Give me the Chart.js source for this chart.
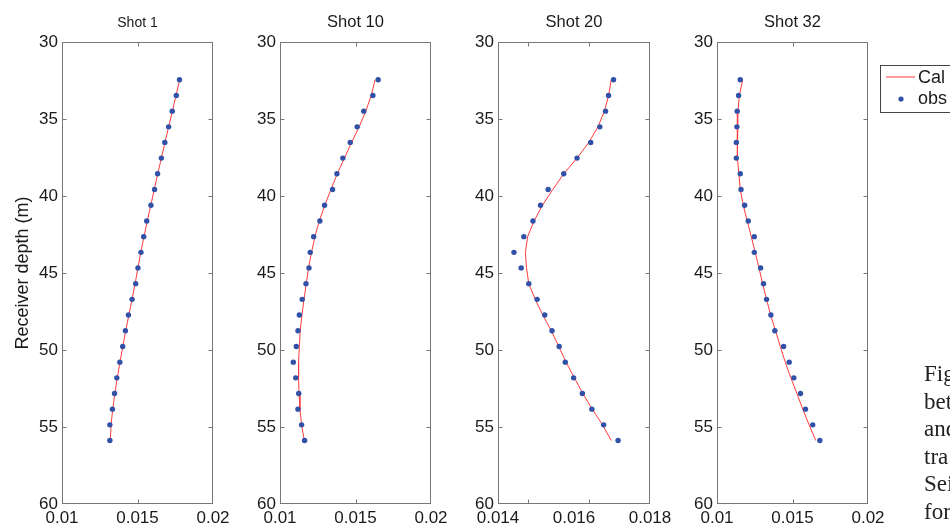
<!DOCTYPE html>
<html><head><meta charset="utf-8">
<script src="https://cdn.jsdelivr.net/npm/chart.js@4.4.1/dist/chart.umd.min.js"></script>
<style>
html,body{margin:0;padding:0;background:#fff;width:950px;height:525px;overflow:hidden;position:relative;}
canvas{position:absolute;top:0;}
#caption{position:absolute;left:924px;top:360px;font-family:"Liberation Serif","Times New Roman",serif;font-size:23px;line-height:27.5px;color:#222;white-space:nowrap;}
</style></head><body>
<canvas id="c1" width="240" height="525" style="left:0px"></canvas>
<canvas id="c2" width="240" height="525" style="left:218px"></canvas>
<canvas id="c3" width="240" height="525" style="left:436px"></canvas>
<canvas id="c4" width="295" height="525" style="left:655px"></canvas>
<div id="caption">Fig<br>bet<br>and<br>tra<br>Sei<br>for</div>
<script>
// ---- data ----
const depths = [32.45, 33.47, 34.49, 35.51, 36.52, 37.54, 38.56, 39.58, 40.60, 41.62, 42.64, 43.66,
                44.67, 45.69, 46.71, 47.73, 48.75, 49.77, 50.79, 51.81, 52.82, 53.84, 54.86, 55.88];

const shotTitles = ["Shot 1", "Shot 10", "Shot 20", "Shot 32"];
const seriesLabels = ["Cal", "obs"];
const yAxisTitle = "Receiver depth (m)";

const shot1Obs = [0.01778, 0.01757, 0.01730, 0.01706, 0.01681, 0.01658, 0.01633, 0.01613, 0.01589, 0.01561, 0.01541, 0.01523,
                  0.01503, 0.01488, 0.01464, 0.01440, 0.01420, 0.01402, 0.01383, 0.01363, 0.01348, 0.01334, 0.01317, 0.01317];
const shot1Cal = [0.01780, 0.01755, 0.01731, 0.01706, 0.01682, 0.01658, 0.01634, 0.01611, 0.01588, 0.01565, 0.01543, 0.01522,
                  0.01503, 0.01484, 0.01464, 0.01443, 0.01422, 0.01403, 0.01384, 0.01366, 0.01350, 0.01336, 0.01325, 0.01320];

const shot10Obs = [0.01650, 0.01615, 0.01555, 0.01511, 0.01465, 0.01416, 0.01377, 0.01348, 0.01295, 0.01264, 0.01223, 0.01200,
                   0.01192, 0.01172, 0.01147, 0.01128, 0.01119, 0.01108, 0.01088, 0.01104, 0.01124, 0.01119, 0.01143, 0.01163];
const shot10Cal = [0.01630, 0.01604, 0.01568, 0.01524, 0.01474, 0.01427, 0.01379, 0.01337, 0.01297, 0.01260, 0.01231, 0.01209,
                   0.01189, 0.01174, 0.01159, 0.01145, 0.01134, 0.01128, 0.01123, 0.01123, 0.01126, 0.01132, 0.01143, 0.01161];

const shot20Obs = [0.01704, 0.01691, 0.01683, 0.01668, 0.01644, 0.01608, 0.01573, 0.01532, 0.01512, 0.01492, 0.01468, 0.01442,
                   0.01461, 0.01481, 0.01503, 0.01523, 0.01542, 0.01561, 0.01577, 0.01599, 0.01622, 0.01647, 0.01678, 0.01716];
const shot20Cal = [0.01698, 0.01691, 0.01680, 0.01663, 0.01639, 0.01608, 0.01573, 0.01544, 0.01517, 0.01495, 0.01478, 0.01472,
                   0.01475, 0.01481, 0.01498, 0.01518, 0.01540, 0.01560, 0.01579, 0.01601, 0.01623, 0.01648, 0.01675, 0.01698];

const shot32Obs = [0.01154, 0.01143, 0.01134, 0.01132, 0.01128, 0.01128, 0.01154, 0.01159, 0.01183, 0.01207, 0.01247, 0.01247,
                   0.01289, 0.01308, 0.01328, 0.01357, 0.01383, 0.01441, 0.01478, 0.01509, 0.01553, 0.01586, 0.01634, 0.01681];
const shot32Cal = [0.01170, 0.01148, 0.01139, 0.01134, 0.01134, 0.01137, 0.01145, 0.01154, 0.01174, 0.01200, 0.01227, 0.01253,
                   0.01278, 0.01302, 0.01328, 0.01355, 0.01388, 0.01419, 0.01452, 0.01489, 0.01529, 0.01568, 0.01610, 0.01654];

const yTickValues = [30, 35, 40, 45, 50, 55, 60];
const yTickLabels = ["30", "35", "40", "45", "50", "55", "60"];
const xTickValuesA = [0.01, 0.015, 0.02];
const xTickLabelsA = ["0.01", "0.015", "0.02"];
const xTickValuesB = [0.014, 0.016, 0.018];
const xTickLabelsB = ["0.014", "0.016", "0.018"];
const xTickMarksA = [0.015];
const xTickMarksB = [0.0148, 0.0164];

// ---- styling ----
const AXIS = '#777777';
const TEXT = '#1a1a1a';
const RED = '#ff3b3b';
const BLUE = '#3150a8';
const FONT = '"Liberation Sans", Arial, sans-serif';

const framePlugin = {
  id: 'frame',
  afterDraw(chart) {
    const o = chart.options.plugins.frame;
    const ctx = chart.ctx, a = chart.chartArea;
    const xs = chart.scales.x, ys = chart.scales.y;
    ctx.save();
    ctx.strokeStyle = AXIS; ctx.lineWidth = 1;
    const L = Math.round(a.left) + 0.5, R = Math.round(a.right) - 0.5;
    const T = Math.round(a.top) + 0.5, B = Math.round(a.bottom) - 0.5;
    ctx.strokeRect(L, T, R - L, B - T);
    ctx.beginPath();
    o.xMarks.forEach(v => {
      const px = Math.round(xs.getPixelForValue(v)) + 0.5;
      ctx.moveTo(px, T); ctx.lineTo(px, T + 4);
      ctx.moveTo(px, B); ctx.lineTo(px, B - 4);
    });
    yTickValues.slice(1, -1).forEach(v => {
      const py = Math.round(ys.getPixelForValue(v)) + 0.5;
      ctx.moveTo(L, py); ctx.lineTo(L + 4, py);
      ctx.moveTo(R, py); ctx.lineTo(R - 4, py);
    });
    ctx.stroke();
    // title
    ctx.fillStyle = TEXT;
    ctx.font = o.titleSize + 'px ' + FONT;
    ctx.textAlign = 'center'; ctx.textBaseline = 'alphabetic';
    ctx.fillText(o.title, (a.left + a.right) / 2, 27);
    ctx.restore();
  }
};

const legendPlugin = {
  id: 'boxLegend',
  afterDraw(chart) {
    const o = chart.options.plugins.boxLegend;
    if (!o || !o.show) return;
    const ctx = chart.ctx, a = chart.chartArea;
    const x0 = Math.round(a.right) + 12, y0 = Math.round(a.top) + 23;
    ctx.save();
    ctx.fillStyle = '#fff';
    ctx.fillRect(x0, y0, 120, 47);
    ctx.strokeStyle = '#444'; ctx.lineWidth = 1;
    ctx.strokeRect(x0 + 0.5, y0 + 0.5, 120, 47);
    const cal = chart.data.datasets.find(d => d.label === seriesLabels[0]);
    const obs = chart.data.datasets.find(d => d.label === seriesLabels[1]);
    ctx.strokeStyle = cal.borderColor;
    ctx.beginPath(); ctx.moveTo(x0 + 6, y0 + 12); ctx.lineTo(x0 + 35, y0 + 12); ctx.stroke();
    ctx.fillStyle = obs.pointBackgroundColor;
    ctx.beginPath(); ctx.arc(x0 + 21, y0 + 34, 2.6, 0, Math.PI * 2); ctx.fill();
    ctx.fillStyle = TEXT;
    ctx.font = '18px ' + FONT;
    ctx.textAlign = 'left'; ctx.textBaseline = 'middle';
    ctx.fillText(cal.label, x0 + 38, y0 + 13);
    ctx.fillText(obs.label, x0 + 38, y0 + 34);
    ctx.restore();
  }
};

function makeChart(id, title, titleSize, obs, cal, xMin, xMax, xVals, xLabels, xMarks, withYTitle, rightPad, legend) {
  const ctx = document.getElementById(id);
  return new Chart(ctx, {
    type: 'scatter',
    data: {
      datasets: [
        { label: seriesLabels[1], data: depths.map((d, i) => ({ x: obs[i], y: d })),
          pointRadius: 2.7, pointHoverRadius: 2.7, pointBackgroundColor: BLUE, pointBorderWidth: 0,
          backgroundColor: BLUE, showLine: false, order: 0 },
        { label: seriesLabels[0], data: depths.map((d, i) => ({ x: cal[i], y: d })),
          showLine: true, borderColor: RED, borderWidth: 1, pointRadius: 0, pointHoverRadius: 0,
          tension: 0, fill: false, order: 1 }
      ]
    },
    options: {
      responsive: false, animation: false, devicePixelRatio: 1,
      layout: { padding: { top: 42, right: rightPad, bottom: 0, left: 0 } },
      plugins: {
        legend: { display: false }, tooltip: { enabled: false }, title: { display: false },
        frame: { title: title, titleSize: titleSize, xMarks: xMarks },
        boxLegend: { show: legend }
      },
      scales: {
        x: {
          type: 'linear', min: xMin, max: xMax,
          grid: { display: false, drawTicks: false }, border: { display: false },
          afterBuildTicks: s => { s.ticks = xVals.map(v => ({ value: v })); },
          afterFit: s => { s.height = 21; },
          ticks: { autoSkip: false, maxRotation: 0, padding: 4, color: TEXT,
                   font: { family: FONT, size: 17 },
                   callback: (v, i) => xLabels[i] }
        },
        y: {
          type: 'linear', min: 30, max: 60, reverse: true,
          grid: { display: false, drawTicks: false }, border: { display: false },
          afterBuildTicks: s => { s.ticks = yTickValues.map(v => ({ value: v })); },
          afterFit: s => { s.width = 62; },
          title: { display: withYTitle, text: yAxisTitle, color: TEXT,
                   font: { family: FONT, size: 18 }, padding: { top: 12, bottom: 0 } },
          ticks: { autoSkip: false, padding: 4, color: TEXT,
                   font: { family: FONT, size: 17 },
                   callback: (v, i) => yTickLabels[i] }
        }
      }
    },
    plugins: [framePlugin, legendPlugin]
  });
}

makeChart('c1', shotTitles[0], 14, shot1Obs, shot1Cal, 0.01, 0.02, xTickValuesA, xTickLabelsA, xTickMarksA, true, 27, false);
makeChart('c2', shotTitles[1], 16.5, shot10Obs, shot10Cal, 0.01, 0.02, xTickValuesA, xTickLabelsA, xTickMarksA, false, 27, false);
makeChart('c3', shotTitles[2], 16.5, shot20Obs, shot20Cal, 0.014, 0.018, xTickValuesB, xTickLabelsB, xTickMarksB, false, 26, false);
makeChart('c4', shotTitles[3], 16.5, shot32Obs, shot32Cal, 0.01, 0.02, xTickValuesA, xTickLabelsA, xTickMarksA, false, 82, true);
</script>
</body></html>
